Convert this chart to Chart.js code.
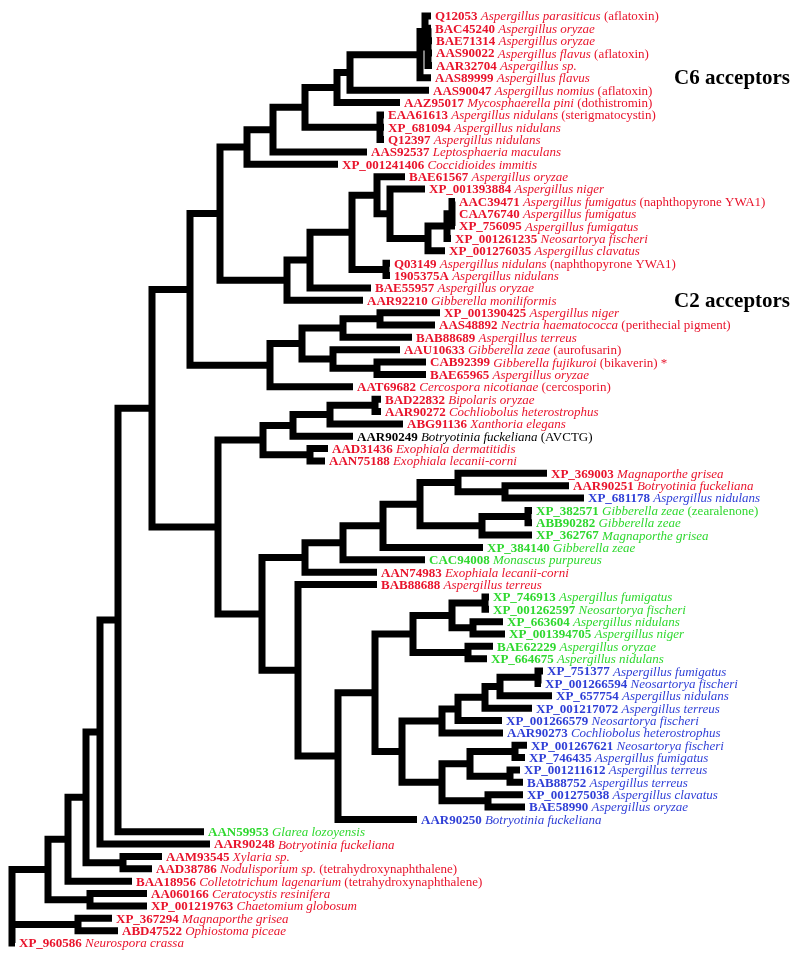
<!DOCTYPE html>
<html>
<head>
<meta charset="utf-8">
<script src="https://cdn.jsdelivr.net/npm/chart.js@4.4.0/dist/chart.umd.min.js"></script>
<style>
    html, body { margin: 0; padding: 0; background: #fff; }
    #wrap { width: 800px; height: 958px; }
</style>
</head>
<body>
<div id="wrap"><canvas id="arbolChart"></canvas></div>
<script>
// hojas, de arriba abajo
const leafIds = [
    'Q12053', 'BAC45240', 'BAE71314', 'AAS90022', 'AAR32704', 'AAS89999', 'AAS90047', 'AAZ95017',
    'EAA61613', 'XP_681094', 'Q12397', 'AAS92537', 'XP_001241406', 'BAE61567', 'XP_001393884',
    'AAC39471', 'CAA76740', 'XP_756095', 'XP_001261235', 'XP_001276035', 'Q03149', '1905375A',
    'BAE55957', 'AAR92210', 'XP_001390425', 'AAS48892', 'BAB88689', 'AAU10633', 'CAB92399',
    'BAE65965', 'AAT69682', 'BAD22832', 'AAR90272', 'ABG91136', 'AAR90249', 'AAD31436', 'AAN75188',
    'XP_369003', 'AAR90251', 'XP_681178', 'XP_382571', 'ABB90282', 'XP_362767', 'XP_384140',
    'CAC94008', 'AAN74983', 'BAB88688', 'XP_746913', 'XP_001262597', 'XP_663604', 'XP_001394705',
    'BAE62229', 'XP_664675', 'XP_751377', 'XP_001266594', 'XP_657754', 'XP_001217072',
    'XP_001266579', 'AAR90273', 'XP_001267621', 'XP_746435', 'XP_001211612', 'BAB88752',
    'XP_001275038', 'BAE58990', 'AAR90250', 'AAN59953', 'AAR90248', 'AAM93545', 'AAD38786',
    'BAA18956', 'AA060166', 'XP_001219763', 'XP_367294', 'ABD47522', 'XP_960586'
];
const leafSpecies = [
    'Aspergillus parasiticus', 'Aspergillus oryzae', 'Aspergillus oryzae', 'Aspergillus flavus',
    'Aspergillus sp.', 'Aspergillus flavus', 'Aspergillus nomius', 'Mycosphaerella pini',
    'Aspergillus nidulans', 'Aspergillus nidulans', 'Aspergillus nidulans', 'Leptosphaeria maculans',
    'Coccidioides immitis', 'Aspergillus oryzae', 'Aspergillus niger', 'Aspergillus fumigatus',
    'Aspergillus fumigatus', 'Aspergillus fumigatus', 'Neosartorya fischeri', 'Aspergillus clavatus',
    'Aspergillus nidulans', 'Aspergillus nidulans', 'Aspergillus oryzae', 'Gibberella moniliformis',
    'Aspergillus niger', 'Nectria haematococca', 'Aspergillus terreus', 'Gibberella zeae',
    'Gibberella fujikuroi', 'Aspergillus oryzae', 'Cercospora nicotianae', 'Bipolaris oryzae',
    'Cochliobolus heterostrophus', 'Xanthoria elegans', 'Botryotinia fuckeliana', 'Exophiala dermatitidis',
    'Exophiala lecanii-corni', 'Magnaporthe grisea', 'Botryotinia fuckeliana', 'Aspergillus nidulans',
    'Gibberella zeae', 'Gibberella zeae', 'Magnaporthe grisea', 'Gibberella zeae',
    'Monascus purpureus', 'Exophiala lecanii-corni', 'Aspergillus terreus', 'Aspergillus fumigatus',
    'Neosartorya fischeri', 'Aspergillus nidulans', 'Aspergillus niger', 'Aspergillus oryzae',
    'Aspergillus nidulans', 'Aspergillus fumigatus', 'Neosartorya fischeri', 'Aspergillus nidulans',
    'Aspergillus terreus', 'Neosartorya fischeri', 'Cochliobolus heterostrophus', 'Neosartorya fischeri',
    'Aspergillus fumigatus', 'Aspergillus terreus', 'Aspergillus terreus', 'Aspergillus clavatus',
    'Aspergillus oryzae', 'Botryotinia fuckeliana', 'Glarea lozoyensis', 'Botryotinia fuckeliana',
    'Xylaria sp.', 'Nodulisporium sp.', 'Colletotrichum lagenarium', 'Ceratocystis resinifera',
    'Chaetomium globosum', 'Magnaporthe grisea', 'Ophiostoma piceae', 'Neurospora crassa'
];
// producto conocido (por indice de hoja)
const leafNotes = {
    0: '(aflatoxin)', 3: '(aflatoxin)', 6: '(aflatoxin)', 7: '(dothistromin)', 8: '(sterigmatocystin)',
    15: '(naphthopyrone YWA1)', 20: '(naphthopyrone YWA1)', 25: '(perithecial pigment)',
    27: '(aurofusarin)', 28: '(bikaverin) *', 30: '(cercosporin)', 34: '(AVCTG)',
    40: '(zearalenone)', 69: '(tetrahydroxynaphthalene)', 70: '(tetrahydroxynaphthalene)'
};
// grupo: R, G, B, K
const leafGroup = (
    'RRRRRRRRRRRRRRRRRRRRRRRRRRRRRRRRRRKRR' +
    'RRBGGGGGRRGGGGGGBBBBBBBBBBBBBGRRRRRRRRR'
).split('');
// profundidad de cada punta
const leafDepth = [
    431, 431, 432, 432, 432, 431, 429, 400, 384, 384, 384, 367, 338, 405, 425,
    455, 455, 455, 451, 445, 390, 390, 371, 363, 440, 435, 412, 400, 426, 426, 353,
    381, 381, 403, 353, 328, 325, 547, 569, 584, 532, 532, 532, 483, 425, 377, 377,
    489, 489, 503, 505, 493, 487, 543, 541, 552, 532, 502, 503, 527, 525, 520, 523,
    523, 525, 417, 204, 210, 162, 152, 132, 147, 147, 112, 118, 15
];
// nodos internos: [nombre, profundidad, hijos]
const clades = [
    ['root', 12, ['A48', 'B78', 'XP_960586']],
    ['A48', 48, ['A68', 'N90']],
    ['A68', 68, ['A86', 'BAA18956']],
    ['A86', 86, ['A100', 'N123']],
    ['A100', 100, ['A118', 'AAR90248']],
    ['A118', 118, ['A152', 'AAN59953']],
    ['A152', 152, ['A190', 'A218']],
    ['A190', 190, ['A220', 'A270']],
    ['A220', 220, ['A247', 'A287']],
    ['A247', 247, ['A273', 'XP_001241406']],
    ['A273', 273, ['A305', 'AAS92537']],
    ['A305', 305, ['A337', 'N380']],
    ['A337', 337, ['A350', 'AAZ95017']],
    ['A350', 350, ['C0', 'AAS90047']],
    ['C0', 420, ['C1', 'AAS89999']],
    ['C1', 425, ['Q12053', 'C2']],
    ['C2', 428, ['BAC45240', 'BAE71314', 'AAS90022', 'AAR32704']],
    ['N380', 380, ['EAA61613', 'XP_681094', 'Q12397']],
    ['A287', 287, ['A310', 'AAR92210']],
    ['A310', 310, ['A352', 'BAE55957']],
    ['A352', 352, ['A377', 'N386']],
    ['A377', 377, ['BAE61567', 'A390']],
    ['A390', 390, ['XP_001393884', 'A428']],
    ['A428', 428, ['D1', 'XP_001276035']],
    ['D1', 447, ['D2', 'XP_001261235']],
    ['D2', 452, ['AAC39471', 'CAA76740', 'XP_756095']],
    ['N386', 386, ['Q03149', '1905375A']],
    ['A270', 270, ['A302', 'AAT69682']],
    ['A302', 302, ['A343', 'A333']],
    ['A343', 343, ['N380b', 'BAB88689']],
    ['N380b', 380, ['XP_001390425', 'AAS48892']],
    ['A333', 333, ['AAU10633', 'N377']],
    ['N377', 377, ['CAB92399', 'BAE65965']],
    ['A218', 218, ['A263', 'A262']],
    ['A263', 263, ['A293', 'N310']],
    ['A293', 293, ['A330', 'AAR90249']],
    ['A330', 330, ['N375', 'ABG91136']],
    ['N375', 375, ['BAD22832', 'AAR90272']],
    ['N310', 310, ['AAD31436', 'AAN75188']],
    ['A262', 262, ['A305b', 'A298']],
    ['A305b', 305, ['A343b', 'AAN74983']],
    ['A343b', 343, ['A383', 'CAC94008']],
    ['A383', 383, ['A420', 'XP_384140']],
    ['A420', 420, ['A458', 'A482']],
    ['A458', 458, ['XP_369003', 'N505']],
    ['N505', 505, ['AAR90251', 'XP_681178']],
    ['A482', 482, ['N528', 'XP_362767']],
    ['N528', 528, ['XP_382571', 'ABB90282']],
    ['A298', 298, ['BAB88688', 'A338']],
    ['A338', 338, ['A375', 'AAR90250']],
    ['A375', 375, ['A413', 'B402']],
    ['A413', 413, ['A452', 'N468']],
    ['A452', 452, ['N485', 'N473']],
    ['N485', 485, ['XP_746913', 'XP_001262597']],
    ['N473', 473, ['XP_663604', 'XP_001394705']],
    ['N468', 468, ['BAE62229', 'XP_664675']],
    ['B402', 402, ['B442a', 'B442b']],
    ['B442a', 442, ['B458', 'AAR90273']],
    ['B458', 458, ['B485', 'XP_001266579']],
    ['B485', 485, ['B500', 'XP_001217072']],
    ['B500', 500, ['B538', 'XP_657754']],
    ['B538', 538, ['XP_751377', 'XP_001266594']],
    ['B442b', 442, ['B470', 'B488']],
    ['B470', 470, ['B515', 'B510']],
    ['B515', 515, ['XP_001267621', 'XP_746435']],
    ['B510', 510, ['XP_001211612', 'BAB88752']],
    ['B488', 488, ['XP_001275038', 'BAE58990']],
    ['N123', 123, ['AAM93545', 'AAD38786']],
    ['N90', 90, ['AA060166', 'XP_001219763']],
    ['B78', 78, ['XP_367294', 'ABD47522']]
];
const cladeTitles = ['C6 acceptors', 'C2 acceptors'];
const cladeTitleRows = [5, 23];

const groupColors = { R: '#e8142c', G: '#2fd82f', B: '#2f3fd6', K: '#000000' };

function buildTree() {
    const nodes = {};
    leafIds.forEach(function(id, i) { nodes[id] = { x: leafDepth[i], y: i, kids: [] }; });
    clades.forEach(function(c) { nodes[c[0]] = { x: c[1], y: null, kids: c[2] }; });
    function posY(name) {
        const n = nodes[name];
        if (n.y === null) {
            const ys = n.kids.map(posY);
            n.y = (ys[0] + ys[ys.length - 1]) / 2;
        }
        return n.y;
    }
    posY('root');
    const segs = [];
    clades.forEach(function(c) {
        const n = nodes[c[0]];
        n.kids.forEach(function(k) {
            const ch = nodes[k];
            segs.push({ x: n.x, y: n.y }, { x: n.x, y: ch.y }, { x: ch.x, y: ch.y }, { x: null, y: null });
        });
    });
    return segs;
}

const labelPlugin = {
    id: 'leafLabels',
    afterDatasetsDraw: function(chart) {
        const ctx = chart.ctx;
        const xs = chart.scales.x;
        const ys = chart.scales.y;
        const fam = '"Liberation Serif", "Times New Roman", serif';
        ctx.save();
        ctx.textBaseline = 'middle';
        leafIds.forEach(function(id, i) {
            let x = xs.getPixelForValue(leafDepth[i]) + 4;
            const y = ys.getPixelForValue(i) + 1;
            ctx.fillStyle = groupColors[leafGroup[i]];
            ctx.font = 'bold 13px ' + fam;
            ctx.fillText(id, x, y);
            x += ctx.measureText(id + ' ').width;
            ctx.font = 'italic 13px ' + fam;
            ctx.fillText(leafSpecies[i], x, y);
            x += ctx.measureText(leafSpecies[i] + ' ').width;
            if (leafNotes[i]) {
                ctx.font = '13px ' + fam;
                ctx.fillText(leafNotes[i], x, y);
            }
        });
        ctx.fillStyle = '#000';
        ctx.font = 'bold 21px ' + fam;
        cladeTitles.forEach(function(t, k) {
            ctx.fillText(t, xs.getPixelForValue(674), ys.getPixelForValue(cladeTitleRows[k]) + 1);
        });
        ctx.restore();
    }
};

function initArbol() {
    const ctx = document.getElementById('arbolChart');
    new Chart(ctx, {
        type: 'line',
        data: {
            datasets: [{
                data: buildTree(),
                borderColor: '#000',
                borderWidth: 7,
                borderJoinStyle: 'miter',
                borderCapStyle: 'butt',
                pointRadius: 0,
                tension: 0,
                spanGaps: false,
                fill: false
            }]
        },
        options: {
            responsive: true,
            maintainAspectRatio: false,
            animation: false,
            events: [],
            layout: { padding: 0 },
            plugins: {
                legend: { display: false },
                tooltip: { enabled: false }
            },
            scales: {
                x: { type: 'linear', min: 0, max: 800, display: false },
                y: { type: 'linear', min: -1.2945, max: 76.2135, reverse: true, display: false }
            }
        },
        plugins: [labelPlugin]
    });
}

initArbol();
</script>
</body>
</html>
